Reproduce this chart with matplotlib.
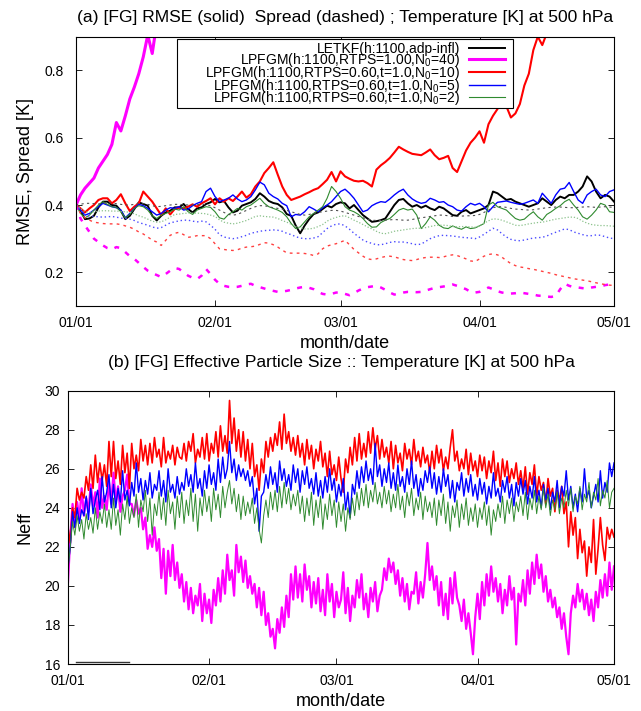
import numpy as np
import matplotlib
matplotlib.use("Agg")
import matplotlib.pyplot as plt
from matplotlib.patches import Rectangle

plt.rcParams["font.family"] = ["Liberation Sans", "DejaVu Sans"]
plt.rcParams["mathtext.fontset"] = "custom"
plt.rcParams["mathtext.rm"] = "Liberation Sans"
plt.rcParams["mathtext.it"] = "Liberation Sans:italic"
plt.rcParams["mathtext.default"] = "regular"

# x axis: days since 01/01
date_ticks = [0, 31, 59, 90, 120]
date_labels = ["01/01", "02/01", "03/01", "04/01", "05/01"]

exp_labels = [
    "LETKF(h:1100,adp-infl)",
    "LPFGM(h:1100,RTPS=1.00,N$_0$=40)",
    "LPFGM(h:1100,RTPS=0.60,t=1.0,N$_0$=10)",
    "LPFGM(h:1100,RTPS=0.60,t=1.0,N$_0$=5)",
    "LPFGM(h:1100,RTPS=0.60,t=1.0,N$_0$=2)",
]

# (a) daily first-guess RMSE (solid) / spread (dashed)
letkf_rmse = [
    0.400, 0.383, 0.358, 0.360, 0.368, 0.393, 0.410, 0.410, 0.400, 0.398,
    0.383, 0.358, 0.368, 0.388, 0.408, 0.403, 0.398, 0.368, 0.354, 0.368,
    0.378, 0.383, 0.393, 0.393, 0.403, 0.388, 0.378, 0.390, 0.393, 0.403,
    0.408, 0.418, 0.408, 0.412, 0.393, 0.378, 0.383, 0.398, 0.403, 0.408,
    0.418, 0.435, 0.425, 0.412, 0.406, 0.403, 0.393, 0.373, 0.368, 0.339,
    0.316, 0.339, 0.358, 0.373, 0.378, 0.388, 0.398, 0.393, 0.403, 0.408,
    0.405, 0.390, 0.400, 0.385, 0.370, 0.360, 0.350, 0.352, 0.355, 0.360,
    0.380, 0.400, 0.415, 0.418, 0.405, 0.395, 0.400, 0.392, 0.398, 0.390,
    0.385, 0.395, 0.390, 0.380, 0.370, 0.368, 0.380, 0.385, 0.375, 0.380,
    0.385, 0.390, 0.400, 0.440, 0.435, 0.425, 0.415, 0.418, 0.410, 0.405,
    0.400, 0.395, 0.400, 0.405, 0.420, 0.410, 0.400, 0.415, 0.425, 0.420,
    0.430, 0.430, 0.440, 0.455, 0.485, 0.470, 0.440, 0.420, 0.430, 0.425, 0.410,
]
n40_rmse = [
    0.400, 0.430, 0.450, 0.465, 0.480, 0.510, 0.530, 0.550, 0.580, 0.645,
    0.620, 0.665, 0.715, 0.750, 0.790, 0.840, 0.905, 0.850, 0.940,
]
n10_rmse = [
    0.400, 0.390, 0.378, 0.390, 0.400, 0.415, 0.420, 0.420, 0.405, 0.415,
    0.432, 0.405, 0.382, 0.395, 0.405, 0.440, 0.425, 0.410, 0.390, 0.370,
    0.390, 0.372, 0.388, 0.392, 0.390, 0.395, 0.402, 0.395, 0.405, 0.412,
    0.420, 0.402, 0.420, 0.410, 0.420, 0.412, 0.425, 0.440, 0.422, 0.432,
    0.455, 0.470, 0.495, 0.510, 0.527, 0.490, 0.455, 0.430, 0.415, 0.420,
    0.425, 0.432, 0.438, 0.445, 0.450, 0.462, 0.475, 0.498, 0.470, 0.500,
    0.485, 0.478, 0.472, 0.470, 0.472, 0.465, 0.455, 0.505, 0.518, 0.528,
    0.540, 0.556, 0.573, 0.565, 0.558, 0.552, 0.550, 0.548, 0.556, 0.565,
    0.548, 0.536, 0.540, 0.546, 0.510, 0.498, 0.530, 0.562, 0.585, 0.600,
    0.619, 0.585, 0.640, 0.665, 0.685, 0.713, 0.693, 0.660, 0.672, 0.700,
    0.755, 0.790, 0.860, 0.900, 0.875, 0.910, 0.960,
]
n5_rmse = [
    0.400, 0.385, 0.370, 0.375, 0.385, 0.395, 0.405, 0.400, 0.395, 0.392,
    0.385, 0.362, 0.375, 0.390, 0.402, 0.398, 0.390, 0.380, 0.370, 0.375,
    0.385, 0.392, 0.390, 0.395, 0.385, 0.388, 0.398, 0.405, 0.410, 0.440,
    0.450, 0.425, 0.410, 0.415, 0.420, 0.430, 0.418, 0.410, 0.415, 0.425,
    0.445, 0.468, 0.460, 0.435, 0.425, 0.418, 0.405, 0.398, 0.365, 0.372,
    0.370, 0.380, 0.395, 0.388, 0.380, 0.392, 0.400, 0.410, 0.425, 0.440,
    0.447, 0.435, 0.420, 0.400, 0.380, 0.385, 0.398, 0.405, 0.410, 0.408,
    0.418, 0.430, 0.440, 0.447, 0.430, 0.418, 0.410, 0.405, 0.408, 0.420,
    0.415, 0.408, 0.410, 0.400, 0.395, 0.385, 0.382, 0.395, 0.405, 0.400,
    0.405, 0.395, 0.380, 0.395, 0.408, 0.410, 0.412, 0.408, 0.405, 0.402,
    0.405, 0.410, 0.415, 0.405, 0.435, 0.420, 0.405, 0.430, 0.447, 0.450,
    0.467, 0.440, 0.415, 0.405, 0.430, 0.440, 0.447, 0.430, 0.425, 0.440, 0.445,
]
n2_rmse = [
    0.400, 0.375, 0.362, 0.370, 0.385, 0.400, 0.410, 0.402, 0.395, 0.393,
    0.380, 0.362, 0.372, 0.390, 0.398, 0.395, 0.385, 0.368, 0.360, 0.370,
    0.375, 0.380, 0.388, 0.385, 0.395, 0.380, 0.372, 0.385, 0.390, 0.395,
    0.393, 0.380, 0.362, 0.358, 0.372, 0.380, 0.390, 0.385, 0.395, 0.400,
    0.410, 0.420, 0.405, 0.395, 0.390, 0.385, 0.378, 0.365, 0.345, 0.330,
    0.335, 0.350, 0.365, 0.375, 0.385, 0.395, 0.420, 0.455, 0.440, 0.420,
    0.395, 0.385, 0.380, 0.372, 0.360, 0.345, 0.334, 0.335, 0.348, 0.355,
    0.360, 0.372, 0.385, 0.390, 0.385, 0.388, 0.370, 0.330, 0.345, 0.365,
    0.355, 0.340, 0.332, 0.330, 0.338, 0.332, 0.328, 0.335, 0.330, 0.332,
    0.338, 0.345, 0.400, 0.408, 0.395, 0.390, 0.385, 0.372, 0.360, 0.355,
    0.358, 0.370, 0.380, 0.365, 0.355, 0.372, 0.380, 0.390, 0.398, 0.410,
    0.417, 0.400, 0.385, 0.365, 0.358, 0.370, 0.385, 0.405, 0.400, 0.380, 0.378,
]

letkf_sprd = [
    0.400, 0.402, 0.405, 0.405, 0.404, 0.403, 0.405, 0.407, 0.406, 0.404,
    0.402, 0.400, 0.400, 0.402, 0.404, 0.404, 0.402, 0.398, 0.395, 0.396,
    0.398, 0.400, 0.402, 0.402, 0.401, 0.400, 0.400, 0.401, 0.402, 0.401,
    0.398, 0.392, 0.385, 0.378, 0.372, 0.370, 0.372, 0.378, 0.384, 0.390,
    0.395, 0.398, 0.398, 0.395, 0.392, 0.390, 0.388, 0.384, 0.380, 0.376,
    0.372, 0.370, 0.372, 0.375, 0.378, 0.380, 0.382, 0.384, 0.384, 0.382,
    0.378, 0.374, 0.370, 0.366, 0.362, 0.358, 0.355, 0.354, 0.354, 0.355,
    0.356, 0.357, 0.356, 0.355, 0.355, 0.357, 0.360, 0.362, 0.364, 0.366,
    0.368, 0.370, 0.370, 0.368, 0.366, 0.366, 0.367, 0.368, 0.368, 0.369,
    0.372, 0.378, 0.385, 0.392, 0.395, 0.395, 0.393, 0.390, 0.388, 0.387,
    0.386, 0.385, 0.386, 0.388, 0.390, 0.392, 0.393, 0.394, 0.394, 0.393,
    0.392, 0.392, 0.393, 0.394, 0.395, 0.394, 0.393, 0.394, 0.395, 0.394, 0.393,
]
n40_sprd = [
    0.400, 0.360, 0.339, 0.320, 0.300, 0.290, 0.280, 0.272, 0.268, 0.275,
    0.272, 0.260, 0.248, 0.240, 0.228, 0.216, 0.205, 0.198, 0.192, 0.186,
    0.195, 0.205, 0.213, 0.210, 0.200, 0.190, 0.184, 0.180, 0.190, 0.210,
    0.195, 0.178, 0.166, 0.160, 0.157, 0.156, 0.157, 0.160, 0.164, 0.166,
    0.160, 0.156, 0.152, 0.148, 0.145, 0.142, 0.143, 0.145, 0.148, 0.152,
    0.155, 0.157, 0.154, 0.150, 0.142, 0.136, 0.134, 0.136, 0.140, 0.140,
    0.136, 0.132, 0.138, 0.146, 0.152, 0.156, 0.158, 0.160, 0.155, 0.148,
    0.140, 0.134, 0.137, 0.140, 0.142, 0.142, 0.141, 0.142, 0.146, 0.150,
    0.154, 0.156, 0.158, 0.161, 0.164, 0.160, 0.155, 0.150, 0.142, 0.140,
    0.142, 0.148, 0.155, 0.150, 0.144, 0.140, 0.138, 0.137, 0.138, 0.140,
    0.138, 0.136, 0.134, 0.131, 0.130, 0.128, 0.127, 0.130, 0.150, 0.166,
    0.160, 0.156, 0.155, 0.153, 0.152, 0.155, 0.157, 0.158, 0.162, 0.164, 0.165,
]
n10_sprd = [
    0.400, 0.375, 0.362, 0.355, 0.349, 0.347, 0.345, 0.344, 0.344, 0.344,
    0.342, 0.338, 0.334, 0.328, 0.320, 0.314, 0.305, 0.296, 0.290, 0.280,
    0.295, 0.310, 0.316, 0.319, 0.312, 0.304, 0.306, 0.309, 0.309, 0.309,
    0.300, 0.285, 0.270, 0.268, 0.266, 0.265, 0.267, 0.272, 0.275, 0.276,
    0.278, 0.283, 0.288, 0.287, 0.282, 0.275, 0.266, 0.258, 0.257, 0.257,
    0.257, 0.256, 0.254, 0.250, 0.255, 0.270, 0.278, 0.282, 0.285, 0.290,
    0.295, 0.282, 0.268, 0.258, 0.248, 0.240, 0.238, 0.240, 0.244, 0.247,
    0.248, 0.246, 0.242, 0.238, 0.236, 0.235, 0.238, 0.242, 0.244, 0.245,
    0.245, 0.244, 0.246, 0.250, 0.252, 0.250, 0.245, 0.240, 0.234, 0.232,
    0.240, 0.248, 0.253, 0.255, 0.252, 0.245, 0.235, 0.226, 0.220, 0.216,
    0.214, 0.211, 0.209, 0.206, 0.203, 0.200, 0.197, 0.193, 0.190, 0.187,
    0.184, 0.181, 0.179, 0.177, 0.175, 0.172, 0.169, 0.166, 0.164, 0.162, 0.161,
]
n5_sprd = [
    0.400, 0.385, 0.370, 0.367, 0.366, 0.365, 0.364, 0.365, 0.366, 0.364,
    0.361, 0.360, 0.358, 0.354, 0.348, 0.344, 0.340, 0.335, 0.331, 0.333,
    0.340, 0.347, 0.350, 0.353, 0.355, 0.355, 0.352, 0.350, 0.352, 0.350,
    0.340, 0.328, 0.312, 0.305, 0.302, 0.300, 0.302, 0.306, 0.310, 0.316,
    0.319, 0.322, 0.324, 0.325, 0.326, 0.325, 0.322, 0.316, 0.312, 0.306,
    0.302, 0.300, 0.300, 0.302, 0.306, 0.318, 0.330, 0.338, 0.343, 0.344,
    0.338, 0.328, 0.316, 0.306, 0.296, 0.290, 0.286, 0.282, 0.282, 0.285,
    0.289, 0.291, 0.290, 0.290, 0.288, 0.285, 0.282, 0.284, 0.292, 0.300,
    0.305, 0.309, 0.310, 0.309, 0.308, 0.306, 0.304, 0.303, 0.302, 0.300,
    0.305, 0.313, 0.322, 0.331, 0.326, 0.315, 0.305, 0.298, 0.295, 0.294,
    0.296, 0.299, 0.302, 0.303, 0.304, 0.308, 0.314, 0.319, 0.324, 0.329,
    0.327, 0.320, 0.316, 0.312, 0.309, 0.309, 0.311, 0.310, 0.306, 0.302, 0.300,
]
n2_sprd = [
    0.400, 0.390, 0.380, 0.378, 0.380, 0.382, 0.383, 0.383, 0.382, 0.382,
    0.381, 0.380, 0.378, 0.374, 0.368, 0.364, 0.358, 0.352, 0.349, 0.350,
    0.356, 0.364, 0.372, 0.373, 0.375, 0.376, 0.376, 0.376, 0.375, 0.374,
    0.370, 0.366, 0.356, 0.349, 0.346, 0.344, 0.346, 0.350, 0.354, 0.360,
    0.366, 0.368, 0.366, 0.365, 0.364, 0.360, 0.354, 0.349, 0.343, 0.336,
    0.332, 0.329, 0.329, 0.331, 0.336, 0.342, 0.352, 0.359, 0.363, 0.367,
    0.368, 0.362, 0.355, 0.349, 0.342, 0.335, 0.329, 0.322, 0.316, 0.315,
    0.318, 0.322, 0.324, 0.326, 0.328, 0.330, 0.331, 0.331, 0.333, 0.336,
    0.339, 0.340, 0.340, 0.339, 0.336, 0.335, 0.336, 0.336, 0.335, 0.334,
    0.338, 0.346, 0.353, 0.359, 0.358, 0.355, 0.350, 0.345, 0.340, 0.339,
    0.341, 0.344, 0.346, 0.348, 0.349, 0.352, 0.355, 0.358, 0.360, 0.362,
    0.364, 0.364, 0.360, 0.352, 0.346, 0.342, 0.340, 0.339, 0.339, 0.338, 0.337,
]

# (b) effective particle size, every half day
n40_neff = [
    20.2, 22.5, 24.2, 23.0, 24.3, 23.4, 25.0, 23.6, 24.5, 23.8, 25.2, 24.1, 24.8, 23.5, 25.5, 24.0, 24.6, 23.9, 25.3, 24.2,
    25.8, 24.3, 25.1, 23.8, 24.6, 24.9, 25.7, 24.2, 24.2, 23.6, 24.4, 23.7, 24.0, 22.9, 23.5, 21.9, 22.6, 22.0, 23.0, 21.8,
    22.4, 20.4, 21.9, 19.6, 21.8, 20.5, 22.1, 20.3, 21.2, 19.9, 20.6, 19.2, 20.2, 18.8, 19.9, 18.6, 19.5, 19.0, 20.1, 18.2,
    19.6, 18.6, 19.3, 18.1, 19.8, 19.0, 20.4, 19.2, 20.8, 19.6, 21.6, 20.3, 20.8, 19.5, 22.1, 20.7, 21.5, 20.2, 21.3, 19.9,
    20.5, 19.6, 20.1, 18.9, 19.9, 18.5, 19.7, 18.0, 18.6, 17.4, 17.8, 16.8, 18.3, 17.6, 18.9, 17.9, 19.5, 18.4, 20.6, 19.3,
    21.0, 19.4, 20.6, 19.2, 21.1, 19.8, 20.5, 18.9, 20.2, 19.1, 20.4, 18.7, 19.8, 18.5, 20.6, 19.2, 20.1, 18.4, 19.7, 18.9,
    19.3, 20.7, 18.6, 19.9, 18.2, 19.5, 18.9, 20.3, 19.4, 20.6, 18.8, 19.6, 18.4, 19.9, 19.2, 20.2, 18.7, 19.5, 19.8, 20.9,
    20.3, 21.4, 20.7, 21.2, 20.1, 20.8, 19.5, 20.4, 19.2, 20.1, 18.8, 19.7, 19.6, 20.7, 19.1, 20.2, 19.4, 20.6, 22.2, 20.3,
    21.0, 19.8, 20.5, 19.0, 20.2, 18.5, 19.6, 18.3, 20.4, 19.1, 20.7, 19.4, 19.0, 18.2, 19.3, 17.8, 18.6, 17.6, 16.5, 18.4,
    19.6, 18.3, 20.2, 19.0, 20.6, 19.5, 21.0, 19.7, 20.4, 19.2, 20.1, 18.6, 19.8, 19.0, 20.5, 19.3, 19.9, 17.0, 19.6, 19.2,
    20.3, 19.0, 20.8, 19.6, 21.2, 20.1, 21.6, 20.4, 21.1, 19.7, 20.5, 19.2, 19.8, 18.9, 19.4, 18.4, 18.9, 17.8, 18.6, 17.4,
    16.5, 18.6, 19.5, 18.9, 20.1, 19.2, 19.8, 18.8, 19.6, 18.5, 19.3, 18.2, 19.7, 18.9, 20.3, 19.4, 20.6, 19.5, 21.2, 19.8,
    21.0,
]
n10_neff = [
    23.0, 22.2, 24.0, 23.5, 25.0, 24.4, 24.8, 24.5, 25.6, 24.9, 26.2, 25.0, 26.7, 25.3, 26.3, 25.4, 26.2, 25.1, 27.4, 25.6,
    27.4, 25.5, 26.4, 25.2, 27.2, 25.8, 26.8, 25.0, 27.3, 26.0, 26.7, 25.9, 27.5, 26.4, 27.2, 26.2, 27.3, 26.3, 27.6, 26.6,
    27.0, 26.1, 27.6, 26.3, 26.9, 26.5, 27.2, 26.2, 27.1, 26.6, 26.5, 27.3, 26.4, 27.4, 26.9, 27.8, 26.3, 27.0, 26.6, 27.6,
    26.5, 27.8, 26.4, 27.3, 26.8, 27.9, 26.6, 28.2, 26.9, 27.7, 26.8, 29.5, 27.3, 28.6, 26.9, 28.0, 26.6, 27.9, 26.4, 27.5,
    26.0, 27.3, 25.6, 26.2, 24.9, 26.5, 25.8, 27.4, 26.6, 27.6, 26.9, 27.8, 27.2, 28.4, 27.0, 28.8, 27.3, 27.9, 26.9, 27.6,
    26.7, 27.7, 26.6, 27.3, 26.2, 27.5, 26.5, 27.2, 26.0, 27.0, 26.4, 27.4, 26.1, 26.8, 25.6, 26.9, 25.7, 26.2, 25.4, 26.6,
    25.5, 24.8, 26.5, 25.8, 27.1, 26.2, 27.6, 26.4, 27.8, 26.5, 27.3, 26.6, 27.9, 26.8, 28.1, 27.0, 27.7, 26.5, 27.5, 26.6,
    27.1, 26.3, 27.4, 26.0, 27.2, 26.3, 26.8, 25.9, 27.3, 26.5, 27.0, 26.2, 27.5, 26.4, 26.9, 26.1, 27.1, 26.3, 26.7, 25.8,
    26.9, 26.0, 27.2, 26.3, 27.0, 25.9, 26.6, 26.0, 27.1, 28.0, 26.4, 26.9, 25.9, 26.5, 26.0, 27.0, 25.7, 26.8, 25.9, 26.4,
    25.6, 26.7, 25.9, 26.6, 25.5, 26.4, 25.8, 26.9, 25.4, 26.3, 25.1, 26.5, 25.6, 26.4, 25.3, 26.0, 25.5, 26.3, 25.2, 25.9,
    25.0, 26.1, 24.7, 25.8, 25.2, 26.2, 24.6, 25.6, 24.9, 25.3, 24.2, 25.5, 24.6, 25.0, 23.8, 24.9, 24.4, 25.1, 23.7, 24.3,
    22.0, 23.8, 22.6, 23.5, 21.4, 22.9, 21.7, 22.3, 20.5, 22.0, 21.2, 23.4, 20.6, 21.9, 23.5, 22.1, 21.3, 23.0, 22.4, 22.9,
    22.5,
]
n5_neff = [
    21.0, 22.0, 23.8, 23.0, 24.0, 23.2, 23.9, 23.6, 24.6, 23.4, 25.0, 23.7, 24.4, 24.9, 23.9, 25.6, 24.3, 24.8, 25.7, 24.0,
    25.2, 24.0, 25.0, 24.3, 25.9, 24.4, 24.9, 24.1, 25.3, 24.6, 26.3, 24.8, 25.5, 24.4, 25.4, 24.7, 25.8, 24.5, 25.2, 24.9,
    25.9, 24.6, 25.4, 24.3, 26.0, 24.8, 25.2, 24.5, 25.6, 24.7, 25.3, 24.9, 26.0, 25.1, 25.7, 24.8, 26.3, 25.0, 25.5, 24.6,
    25.9, 25.0, 26.2, 25.2, 25.8, 24.9, 26.5, 25.3, 26.6, 25.5, 26.0, 27.4, 25.8, 26.5, 25.4, 26.2, 25.6, 26.0, 25.4, 25.9,
    25.1, 25.6, 24.2, 25.0, 22.8, 24.6, 24.8, 25.7, 25.0, 26.1, 25.2, 25.8, 24.8, 26.4, 25.4, 26.0, 25.1, 25.7, 24.9, 26.2,
    25.3, 26.0, 24.8, 25.9, 25.2, 26.1, 25.0, 25.5, 24.7, 25.8, 24.6, 25.4, 24.5, 25.6, 24.8, 26.0, 24.9, 25.5, 24.3, 25.2,
    24.6, 25.5, 23.9, 24.8, 23.5, 25.2, 24.7, 25.9, 25.0, 26.1, 25.3, 26.4, 25.4, 26.0, 25.2, 27.3, 25.6, 26.2, 25.1, 26.0,
    25.3, 26.3, 25.0, 25.8, 24.9, 26.2, 25.1, 25.6, 24.8, 26.0, 25.2, 26.4, 25.0, 25.7, 24.6, 25.5, 24.9, 25.9, 25.3, 26.1,
    25.0, 25.8, 24.7, 25.6, 24.8, 26.0, 25.1, 25.7, 24.5, 25.4, 24.3, 25.3, 24.9, 25.8, 24.6, 25.5, 24.8, 25.7, 24.6, 25.2,
    24.4, 25.5, 24.7, 25.3, 24.2, 25.1, 24.5, 25.8, 24.6, 25.0, 24.3, 25.4, 24.8, 25.6, 24.5, 25.2, 24.1, 25.3, 24.6, 25.5,
    24.7, 25.4, 24.2, 25.1, 24.5, 25.6, 24.3, 24.9, 24.0, 25.2, 24.4, 25.0, 23.9, 24.8, 24.3, 25.4, 24.0, 25.1, 24.6, 25.9,
    24.4, 25.1, 24.0, 24.7, 23.8, 25.0, 24.3, 26.0, 24.5, 24.9, 24.0, 24.6, 25.2, 24.3, 25.9, 24.5, 25.3, 24.8, 26.3, 25.6,
    26.3,
]
n2_neff = [
    20.8, 22.0, 23.3, 22.6, 23.6, 22.8, 23.4, 22.4, 23.7, 22.9, 23.5, 22.7, 24.0, 22.9, 23.8, 23.2, 24.2, 23.0, 23.9, 22.9,
    24.5, 23.1, 23.9, 22.6, 24.2, 23.4, 24.6, 23.2, 24.0, 23.5, 24.7, 23.0, 24.4, 23.8, 24.9, 23.3, 24.5, 22.6, 24.2, 23.6,
    24.8, 23.4, 24.5, 23.1, 24.9, 23.7, 24.3, 22.9, 24.6, 23.5, 24.8, 23.2, 24.4, 23.6, 25.0, 23.3, 24.7, 22.8, 24.5, 23.6,
    24.9, 23.8, 24.6, 23.3, 25.0, 23.9, 24.7, 23.5, 25.1, 24.0, 24.8, 25.4, 24.2, 25.0, 23.8, 24.7, 23.4, 24.6, 23.6, 24.3,
    23.7, 24.5, 23.2, 24.0, 22.9, 22.2, 23.6, 24.4, 23.5, 24.8, 23.9, 24.9, 23.8, 25.1, 24.0, 25.3, 24.2, 25.0, 23.9, 24.7,
    24.1, 24.9, 23.7, 24.6, 23.3, 24.5, 23.6, 24.8, 23.1, 24.4, 23.5, 24.6, 22.9, 24.2, 23.4, 24.7, 23.6, 24.4, 23.0, 24.3,
    23.3, 24.2, 22.8, 24.0, 23.4, 24.5, 23.6, 24.8, 23.9, 25.0, 24.1, 25.2, 24.0, 24.9, 24.3, 25.3, 24.2, 24.8, 24.0, 25.1,
    24.2, 24.9, 23.8, 24.7, 24.0, 25.2, 23.9, 24.6, 23.5, 24.8, 24.1, 25.0, 23.6, 24.5, 23.9, 24.8, 23.4, 24.6, 23.8, 24.3,
    23.5, 24.5, 23.1, 24.4, 23.6, 24.7, 23.2, 24.3, 22.8, 24.1, 23.5, 24.4, 23.0, 24.2, 23.4, 24.5, 23.1, 24.0, 23.3, 24.2,
    23.0, 24.0, 23.4, 24.3, 23.1, 24.1, 22.6, 23.9, 23.3, 24.2, 23.5, 24.6, 23.2, 24.4, 23.7, 24.5, 23.3, 24.3, 23.8, 24.6,
    23.6, 24.8, 23.4, 24.5, 23.9, 24.9, 23.7, 24.6, 23.9, 25.0, 24.0, 24.7, 23.6, 24.4, 23.9, 24.8, 23.7, 24.5, 24.0, 24.9,
    24.1, 25.0, 23.8, 24.6, 24.2, 25.1, 23.9, 24.7, 24.3, 25.3, 24.0, 24.8, 24.4, 25.5, 24.1, 24.9, 24.5, 25.4, 24.0, 24.8,
    25.0,
]
# short black segment near the bottom of panel (b)
letkf_neff_days = [1.8, 13.5]
letkf_neff = [16.12, 16.12]

def daily(v):
    return np.arange(len(v))

def halfday(v):
    return np.arange(len(v)) * 0.5

def style_axes(ax, ypad):
    ax.set_xlim(0, 120)
    ax.set_xticks(date_ticks, date_labels)
    ax.tick_params(direction="in", top=True, right=True, length=4, width=0.6, labelsize=10)
    ax.tick_params(axis="x", pad=7)
    ax.tick_params(axis="y", pad=ypad)
    for s in ax.spines.values():
        s.set_linewidth(0.8)
    ax.set_xlabel("month/date", fontsize=13, labelpad=4)

fig = plt.figure(figsize=(6.41, 7.11), dpi=100)

# ---- (a) RMSE / spread
ax1 = fig.add_axes([0.1186, 0.5696, 0.8393, 0.3788])
h_letkf, = ax1.plot(daily(letkf_rmse), letkf_rmse, color="black", lw=1.4)
h_n40, = ax1.plot(daily(n40_rmse), n40_rmse, color="#ff00ff", lw=2.2)
h_n10, = ax1.plot(daily(n10_rmse), n10_rmse, color="#ff0000", lw=1.5)
h_n5, = ax1.plot(daily(n5_rmse), n5_rmse, color="#0000ff", lw=1.0)
h_n2, = ax1.plot(daily(n2_rmse), n2_rmse, color="#2f8a2f", lw=0.8)

ax1.plot(daily(letkf_sprd), letkf_sprd, color="#505050", lw=0.8, ls=(0, (2, 3)))
ax1.plot(daily(n40_sprd), n40_sprd, color="#ff00ff", lw=1.8, ls=(0, (2, 3)))
ax1.plot(daily(n10_sprd), n10_sprd, color="#ff4040", lw=1.0, ls=(0, (2, 3)))
ax1.plot(daily(n5_sprd), n5_sprd, color="#4a4aff", lw=1.0, ls=(0, (1, 2)))
ax1.plot(daily(n2_sprd), n2_sprd, color="#8cc28c", lw=0.9, ls=(0, (1, 1.5)))

ax1.set_ylim(0.1, 0.9)
ax1.set_yticks([0.2, 0.4, 0.6, 0.8])
style_axes(ax1, 9)
ax1.set_ylabel("RMSE, Spread [K]", fontsize=13)
ax1.yaxis.set_label_coords(-0.078, 0.5)
fig.text(0.5382, 1 - 17.5 / 711,
         "(a) [FG] RMSE (solid)  Spread (dashed) ; Temperature [K] at 500 hPa",
         fontsize=12.6, ha="center", va="center")

ax1.add_patch(Rectangle((0.187, 0.735), 0.625, 0.256, transform=ax1.transAxes,
                        fill=True, facecolor="white", edgecolor="black", lw=0.8, zorder=4))
leg = ax1.legend([h_letkf, h_n40, h_n10, h_n5, h_n2], exp_labels,
                 loc="upper right", bbox_to_anchor=(0.7974, 0.979), borderaxespad=0,
                 borderpad=0, frameon=False, fontsize=10, markerfirst=False,
                 handlelength=2.6, handletextpad=0.65, labelspacing=-0.38)
leg.set_zorder(5)

# ---- (b) effective particle size
ax2 = fig.add_axes([0.1061, 0.0661, 0.8518, 0.3844])
ax2.plot(letkf_neff_days, letkf_neff, color="#333333", lw=1.0)
ax2.plot(halfday(n40_neff), n40_neff, color="#ff00ff", lw=1.6)
ax2.plot(halfday(n10_neff), n10_neff, color="#ff0000", lw=1.2)
ax2.plot(halfday(n5_neff), n5_neff, color="#0000ff", lw=1.0)
ax2.plot(halfday(n2_neff), n2_neff, color="#2f8a2f", lw=0.7)
ax2.set_ylim(16, 30)
ax2.set_yticks(np.arange(16, 31, 2))
style_axes(ax2, 5.5)
ax2.set_ylabel("Neff", fontsize=13)
ax2.yaxis.set_label_coords(-0.064, 0.5)
fig.text(0.5320, 1 - 362 / 711,
         "(b) [FG] Effective Particle Size :: Temperature [K] at 500 hPa",
         fontsize=12.6, ha="center", va="center")

fig.savefig("out.png", dpi=100)
plt.close(fig)
